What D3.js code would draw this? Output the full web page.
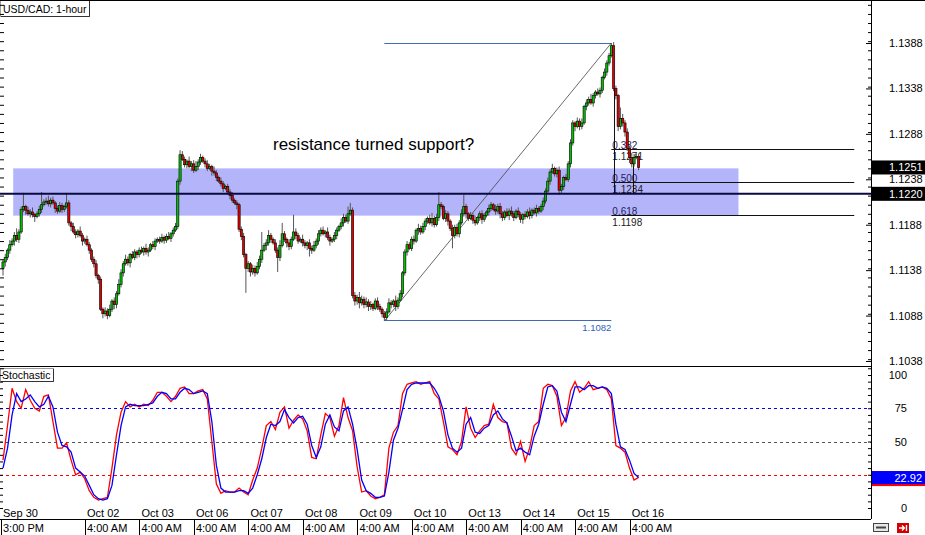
<!DOCTYPE html>
<html><head><meta charset="utf-8">
<script src="https://cdn.jsdelivr.net/npm/d3@7"></script>
<style>body{margin:0;background:#fff;} svg{display:block;font-family:"Liberation Sans",Arial,sans-serif;}</style>
</head><body><svg id="c" width="925" height="535"></svg>
<script>
// ---------------- DATA ----------------
const firstOpen = 1.1140;
// hourly closes, pips above 1.1000
const closesPips = [
147,152,160,166,170,176,172,180,205,208,204,200,202,199,197,200,205,210,213,214,
211,215,212,206,203,209,205,208,212,190,186,180,177,181,176,170,172,166,160,150,
145,132,128,95,90,93,88,95,104,100,112,122,135,145,150,146,155,152,158,155,
160,158,162,158,160,166,164,170,172,170,174,171,175,173,178,182,186,236,265,260,
254,258,252,255,248,252,257,262,258,255,250,252,247,245,240,236,233,228,230,224,
220,215,212,210,183,175,155,140,145,136,140,135,142,150,160,165,168,176,172,168,
160,152,165,178,172,168,164,172,180,176,170,172,168,165,168,162,160,165,170,178,
182,178,180,174,170,172,176,182,186,190,196,192,200,204,110,104,108,102,106,100,
103,98,100,96,104,98,95,90,86,92,102,100,104,98,105,112,135,158,166,162,
172,170,182,184,180,186,192,195,190,195,188,196,210,208,195,200,192,184,176,185,
178,190,200,208,200,195,198,193,190,196,200,194,198,202,206,210,205,203,208,200,
196,202,198,203,200,196,203,199,194,199,197,202,198,204,201,206,203,208,214,225,
236,246,250,244,248,226,230,240,238,255,278,300,296,302,296,300,318,322,326,322,
330,334,332,336,350,356,366,374,385,338,330,296,305,300,290,272,262,255,262,263,
251];
// upper wick (pips above body top)
const upWickPips = [
3,4,2,5,3,4,8,3,3,15,2,4,3,5,2,3,4,14,3,4,
6,3,4,2,3,4,3,2,11,3,2,4,3,2,5,3,2,4,3,2,
3,4,2,3,2,4,3,5,2,4,3,6,4,3,5,3,2,4,3,2,
3,4,2,5,3,2,4,3,2,3,4,2,3,5,2,3,4,3,5,4,
3,2,5,3,4,6,3,4,2,3,4,3,2,5,3,2,4,3,2,3,
3,4,2,3,2,3,4,2,3,2,4,3,5,4,20,3,4,6,3,2,
4,3,6,12,3,2,4,3,19,4,3,2,5,3,2,4,3,5,3,4,
3,4,2,5,3,2,4,3,2,5,4,3,8,8,3,4,3,6,4,3,
5,3,4,2,3,4,3,2,3,4,5,3,2,6,3,4,2,3,4,3,
3,4,2,5,3,4,3,2,4,6,3,4,14,3,2,4,3,2,4,3,
4,3,5,13,3,2,4,3,5,2,3,4,3,2,4,3,2,5,3,4,
3,2,4,3,5,3,2,4,3,2,4,3,5,2,3,4,2,3,4,3,
4,3,5,2,3,4,3,2,4,3,4,3,2,4,3,5,2,4,3,6,
3,2,4,3,2,4,3,3,3,4,3,2,12,5,3,4,3,5,4,3,
3];
// lower wick (pips below body bottom)
const downWickPips = [
8,5,3,4,2,5,3,4,2,3,5,2,4,3,6,2,3,4,2,3,
3,4,2,5,3,2,4,3,2,3,5,2,4,3,2,5,3,2,4,3,
4,3,5,2,5,3,4,2,3,5,4,2,3,4,2,3,5,2,3,4,
3,2,4,3,5,2,3,4,2,3,2,4,3,2,4,3,2,3,4,2,
3,4,2,5,3,2,4,3,2,4,3,2,5,3,4,2,3,4,2,3,
4,3,2,5,3,4,3,27,4,5,3,4,2,3,4,2,5,3,4,2,
3,16,4,2,3,5,4,3,2,4,3,2,4,3,5,9,4,2,3,4,
3,2,4,3,5,2,3,4,2,3,4,2,3,2,3,5,4,6,3,4,
3,5,4,3,2,4,3,4,4,3,2,4,3,5,3,2,4,3,4,2,
3,4,2,5,3,2,4,3,2,4,3,2,4,3,2,4,5,3,14,3,
3,4,2,3,5,3,2,4,3,2,4,5,3,2,4,3,2,4,3,5,
4,3,2,5,3,4,2,3,4,5,3,2,4,3,2,4,3,2,4,3,
3,4,2,3,4,5,3,4,2,3,4,3,5,2,4,3,2,4,3,2,
4,3,2,4,3,2,4,3,2,3,4,5,3,4,5,3,6,4,3,2,
3];
// stochastic, one reading every 2 bars
const stochStep = 2;
const stochMain = [
36,62,90,80,75,89,81,75,73,84,85,65,45,45,49,36,25,27,22,13,
8,6,7,8,30,55,72,80,76,78,76,78,77,81,87,87,84,80,84,90,
91,86,86,88,89,82,50,18,11,13,12,12,15,12,10,21,30,45,62,65,
59,72,76,60,66,70,67,58,38,37,55,71,68,54,62,83,68,58,31,12,
13,9,7,8,10,45,57,62,86,93,94,95,93,94,95,86,82,65,46,44,
40,50,76,60,53,58,62,63,78,68,65,64,45,40,50,35,45,62,65,90,
93,92,84,62,68,88,95,87,90,95,89,90,91,89,82,47,45,42,30,21,
23];
const stochSignal = [
30,45,70,86,80,82,85,80,76,78,84,76,57,47,46,42,30,27,24,17,
10,7,6,7,17,40,62,76,78,77,77,77,78,79,84,87,86,82,82,87,
90,89,86,87,88,86,65,32,15,12,12,12,13,13,11,15,25,37,53,63,
62,65,74,68,64,68,69,63,47,38,46,63,70,61,58,73,76,63,44,21,
13,11,8,8,9,27,51,60,74,89,93,94,94,94,94,90,84,73,55,45,
42,45,63,68,57,56,60,62,70,73,67,64,54,43,45,42,40,54,63,78,
91,92,88,72,65,78,91,91,89,92,92,90,91,90,86,63,46,44,36,26,
23];
const timeBars  = [0,37,61,85,109,133,157,181,205,229,253,277];
const dateLabels = ["Sep 30","Oct 02","Oct 03","Oct 06","Oct 07","Oct 08","Oct 09","Oct 10","Oct 13","Oct 14","Oct 15","Oct 16"];
const timeLabels = ["3:00 PM","4:00 AM","4:00 AM","4:00 AM","4:00 AM","4:00 AM","4:00 AM","4:00 AM","4:00 AM","4:00 AM","4:00 AM","4:00 AM"];
const priceTicks = [1.1388,1.1338,1.1288,1.1238,1.1188,1.1138,1.1088,1.1038];
const stochTicks = [100,75,50,0];
const stochLevels = [75,50,25];
const stochLevelColors = ["#0000ff","#555555","#ff0000"];
const fibLow = 1.1082, fibHigh = 1.1388, fibLowBar = 168, fibHighBar = 268, fibEndBar = 375;
const fibRatios = [0.382,0.5,0.618];
const fibRatioLabels = ["0.382","0.500","0.618"];
const fibPriceLabels = ["1.1271","1.1234","1.1198"];
// two short vertical marker lines (bar, top price, bottom price)
const markerBars = [269, 277.5];
const markerTops = [1.1338, 1.1262];
const markerBottoms = [1.1222, 1.1222];
const zoneTop = 1.1250, zoneBottom = 1.1198, zoneStartBar = 4.5, zoneEndBar = 324;
const hLinePrice = 1.1222, hLineLabel = "1.1220";
const lastPrice = 1.1251, lastPriceLabel = "1.1251";
const stochLastLabel = "22.92", stochLastValue = 22.5;
const title = "USD/CAD: 1-hour";
const annotation = "resistance turned support?";

// ---------------- DRAW ----------------
const svg = d3.select("#c");
const AX = 871;
const x = d3.scaleLinear().domain([0,280]).range([3, 3+280*2.27]);
const y = d3.scaleLinear().domain([1.1038,1.1388]).range([361,43]);
const ys = d3.scaleLinear().domain([0,100]).range([508,375]);
const P = v => 1.1 + v/10000;

const defs = svg.append("defs");
defs.append("clipPath").attr("id","cm").append("rect").attr("x",0).attr("y",0).attr("width",AX).attr("height",366);
defs.append("clipPath").attr("id","cs").append("rect").attr("x",0).attr("y",367).attr("width",AX).attr("height",152);

svg.append("rect").attr("width",925).attr("height",535).attr("fill","#fff");

const gm = svg.append("g").attr("clip-path","url(#cm)");
// zone
gm.append("rect").attr("x",x(zoneStartBar)).attr("y",y(zoneTop))
  .attr("width",x(zoneEndBar)-x(zoneStartBar)).attr("height",y(zoneBottom)-y(zoneTop))
  .attr("fill","#b4b4fa");

// fib
const fx0 = x(fibLowBar), fx1 = x(fibHighBar), fx2 = x(fibEndBar);
gm.append("line").attr("x1",fx0).attr("x2",fx1).attr("y1",Math.round(y(fibHigh))+0.5).attr("y2",Math.round(y(fibHigh))+0.5).attr("stroke","#3f6cb0").attr("stroke-width",1.2);
gm.append("line").attr("x1",fx0).attr("x2",fx1).attr("y1",Math.round(y(fibLow))-0.5).attr("y2",Math.round(y(fibLow))-0.5).attr("stroke","#3f6cb0").attr("stroke-width",1.2);
gm.append("text").attr("x",fx1).attr("y",y(fibLow)+10).attr("text-anchor","end").attr("font-size",9.5).attr("fill","#2f5fb8").text(fibLow.toFixed(4));
gm.append("line").attr("x1",fx0).attr("y1",y(fibLow)).attr("x2",fx1).attr("y2",y(fibHigh)).attr("stroke","#444").attr("stroke-width",0.8);
fibRatios.forEach((r,k)=>{
  const py = Math.round(y(fibHigh - r*(fibHigh-fibLow)))+0.5;
  gm.append("line").attr("x1",fx1).attr("x2",fx2).attr("y1",py).attr("y2",py).attr("stroke","#111").attr("stroke-width",1);
  gm.append("text").attr("x",fx1+1).attr("y",py-1).attr("font-size",10).attr("fill","#22225a").text(fibRatioLabels[k]);
  gm.append("text").attr("x",fx1+1).attr("y",py+10).attr("font-size",10).attr("fill","#222").text(fibPriceLabels[k]);
});
markerBars.forEach((b,k)=>{
  const mx = Math.round(x(b))+0.5;
  gm.append("line").attr("x1",mx).attr("x2",mx).attr("y1",y(markerTops[k])).attr("y2",y(markerBottoms[k])).attr("stroke","#111").attr("stroke-width",1);
});

// candles
const candles = closesPips.map((c,i)=>{
  const close = P(c);
  const open = i===0 ? firstOpen : P(closesPips[i-1]);
  const high = Math.max(open,close) + upWickPips[i]/10000;
  const low = Math.min(open,close) - downWickPips[i]/10000;
  return {i,open,high,low,close};
});
const cg = gm.append("g");
cg.selectAll("line.w").data(candles).join("line")
  .attr("x1",d=>x(d.i)).attr("x2",d=>x(d.i))
  .attr("y1",d=>y(d.high)).attr("y2",d=>y(d.low))
  .attr("stroke","#555").attr("stroke-width",1);
cg.selectAll("rect.b").data(candles).join("rect")
  .attr("x",d=>x(d.i)-1.1).attr("width",2.2)
  .attr("y",d=>y(Math.max(d.open,d.close)))
  .attr("height",d=>Math.max(1,Math.abs(y(d.open)-y(d.close))))
  .attr("fill",d=>d.close>=d.open?"#00c000":"#e00000")
  .attr("stroke","#000").attr("stroke-width",0.6);

// horizontal line
gm.append("line").attr("x1",0).attr("x2",AX).attr("y1",y(hLinePrice)).attr("y2",y(hLinePrice)).attr("stroke","#0a0a40").attr("stroke-width",2);

// annotation
svg.append("text").attr("x",273).attr("y",150).attr("font-size",17).attr("fill","#000").text(annotation);

// title box
svg.append("rect").attr("x",0.5).attr("y",0.5).attr("width",89).attr("height",16).attr("fill","#fff").attr("stroke","#9a9a9a");
svg.append("path").attr("d","M1,16.5H89.5V1").attr("fill","none").attr("stroke","#333");
svg.append("text").attr("x",3).attr("y",12.5).attr("font-size",10.5).text(title);

// ---------- stochastic ----------
const gs = svg.append("g").attr("clip-path","url(#cs)");
stochLevels.forEach((lv,k)=>{
  gs.append("line").attr("x1",0).attr("x2",AX).attr("y1",Math.round(ys(lv))+0.5).attr("y2",Math.round(ys(lv))+0.5)
    .attr("stroke",stochLevelColors[k]).attr("stroke-dasharray","3,3").attr("stroke-width",1);
});
const line = d3.line().x((d,k)=>x(k*stochStep)).y(d=>ys(d)).curve(d3.curveLinear);
gs.append("path").attr("d",line(stochMain)).attr("fill","none").attr("stroke","#ff0000").attr("stroke-width",1.3);
gs.append("path").attr("d",line(stochSignal)).attr("fill","none").attr("stroke","#0000ff").attr("stroke-width",1.3);

svg.append("rect").attr("x",0.5).attr("y",368.5).attr("width",53).attr("height",13).attr("fill","#fff").attr("stroke","#9a9a9a");
svg.append("path").attr("d","M1,381.5H53.5V369").attr("fill","none").attr("stroke","#333");
svg.append("text").attr("x",2).attr("y",379).attr("font-size",10.5).text("Stochastic");

// ---------- frame ----------
svg.append("line").attr("x1",0).attr("x2",925).attr("y1",0.5).attr("y2",0.5).attr("stroke","#000");
svg.append("line").attr("x1",AX+0.5).attr("x2",AX+0.5).attr("y1",0).attr("y2",519).attr("stroke","#000");
svg.append("line").attr("x1",0).attr("x2",AX).attr("y1",366.5).attr("y2",366.5).attr("stroke","#000");
svg.append("line").attr("x1",0).attr("x2",AX).attr("y1",519.5).attr("y2",519.5).attr("stroke","#000");

// price axis (right)
const minorP = d3.range(1.1030,1.1440,0.0010);
svg.append("g").attr("transform",`translate(${AX},0)`)
  .call(d3.axisRight(y).tickValues(minorP).tickSizeInner(-3).tickSizeOuter(0).tickFormat(""))
  .call(g=>g.select(".domain").remove());
svg.append("g").attr("transform",`translate(${AX},0)`)
  .call(d3.axisRight(y).tickValues(priceTicks).tickSizeInner(-5).tickSizeOuter(0).tickPadding(18).tickFormat(d3.format(".4f")))
  .call(g=>g.select(".domain").remove())
  .call(g=>g.selectAll("text").attr("font-size",11).attr("font-family","Liberation Sans, Arial").attr("fill","#000"));
// left edge ticks
svg.append("g").attr("transform","translate(0,0)")
  .call(d3.axisRight(y).tickValues(minorP).tickSizeInner(4).tickSizeOuter(0).tickFormat(""))
  .call(g=>g.select(".domain").remove());
svg.selectAll("g.tick line").attr("stroke","#000");

// price boxes
function box(py, txt, fill){
  svg.append("rect").attr("x",AX+1).attr("y",py-7).attr("width",925-AX-1).attr("height",14).attr("fill",fill);
  svg.append("text").attr("x",889).attr("y",py+4).attr("font-size",11).attr("fill","#fff").text(txt);
}
box(y(lastPrice), lastPriceLabel, "#000");
box(y(hLinePrice), hLineLabel, "#000");

// stochastic axis
const minorS = d3.range(0,101,5);
svg.append("g").attr("transform",`translate(${AX},0)`)
  .call(d3.axisRight(ys).tickValues(minorS).tickSizeInner(-3).tickSizeOuter(0).tickFormat(""))
  .call(g=>g.select(".domain").remove());
svg.append("g").attr("transform","translate(0,0)")
  .call(d3.axisRight(ys).tickValues(minorS).tickSizeInner(3).tickSizeOuter(0).tickFormat(""))
  .call(g=>g.select(".domain").remove());
stochTicks.forEach(v=>{
  svg.append("text").attr("x",907).attr("y",ys(v)+4).attr("text-anchor","end").attr("font-size",11).text(v);
});
svg.append("rect").attr("x",AX+1).attr("y",ys(stochLastValue)-7).attr("width",925-AX-1).attr("height",15).attr("fill","#ff0000");
svg.append("rect").attr("x",AX+1).attr("y",ys(stochLastValue)-7).attr("width",925-AX-1).attr("height",13).attr("fill","#0000ff");
svg.append("text").attr("x",922).attr("y",ys(stochLastValue)+4).attr("text-anchor","end").attr("font-size",11).attr("fill","#fff").text(stochLastLabel);
svg.selectAll("g.tick line").attr("stroke","#000");

// time axis
timeBars.forEach((b,k)=>{
  const tx = x(b);
  svg.append("text").attr("x",tx).attr("y",517).attr("font-size",11).text(dateLabels[k]);
  svg.append("line").attr("x1",Math.round(tx)-1.5).attr("x2",Math.round(tx)-1.5).attr("y1",519).attr("y2",535).attr("stroke","#000");
  svg.append("text").attr("x",tx).attr("y",532).attr("font-size",11).text(timeLabels[k]);
});

// corner icons
svg.append("rect").attr("x",873.5).attr("y",523.5).attr("width",15).attr("height",8).attr("fill","#e8e8e8").attr("stroke","#444");
svg.append("path").attr("d","M876,527.5h10").attr("stroke","#444").attr("stroke-width",2);
svg.append("rect").attr("x",897).attr("y",523).attr("width",12).attr("height",10).attr("fill","#d40000");
svg.append("path").attr("d","M899,528h5M902,525.5l2.5,2.5l-2.5,2.5M906.5,525v6").attr("stroke","#fff").attr("stroke-width",1.3).attr("fill","none");
</script></body></html>
